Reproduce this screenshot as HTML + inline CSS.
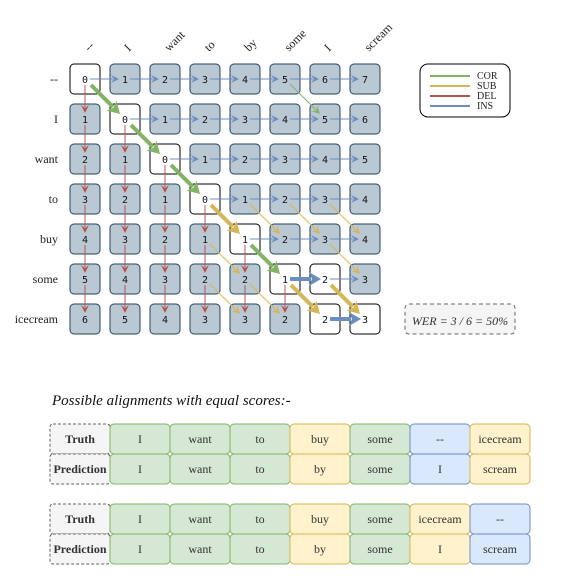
<!DOCTYPE html>
<html><head><meta charset="utf-8"><style>
body{margin:0;background:#fff;}
svg{display:block;}
</style></head><body>
<svg id="s" width="570" height="585" xmlns="http://www.w3.org/2000/svg">
<g id="labels" font-family="Liberation Serif, serif" font-size="12" fill="#222"></g>
<g id="arrowsBelow"></g>
<g id="cells"></g>
<g id="arrows"></g>
<g>
<rect x="420" y="64" width="90" height="53" rx="8" fill="#fff" stroke="#000" stroke-width="1"/>
<line x1="430" y1="76" x2="470" y2="76" stroke="#82b366" stroke-width="2"/>
<line x1="430" y1="86" x2="470" y2="86" stroke="#d6b656" stroke-width="2"/>
<line x1="430" y1="96" x2="470" y2="96" stroke="#b85450" stroke-width="2"/>
<line x1="430" y1="106" x2="470" y2="106" stroke="#6c8ebf" stroke-width="2"/>
<g font-family="Liberation Serif, serif" font-size="10" fill="#222">
<text x="477" y="79">COR</text>
<text x="477" y="89">SUB</text>
<text x="477" y="99">DEL</text>
<text x="477" y="109">INS</text>
</g></g>
<g>
<rect x="405" y="304" width="110" height="30" rx="4" fill="#f5f5f5" stroke="#666" stroke-dasharray="4 3"/>
<text x="460" y="325" text-anchor="middle" font-family="Liberation Serif, serif" font-style="italic" font-size="12" fill="#333">WER = 3 / 6 = 50%</text>
</g>
<text x="52" y="405" font-family="Liberation Serif, serif" font-style="italic" font-size="15" fill="#111">Possible alignments with equal scores:-</text>
<g id="tables" font-family="Liberation Serif, serif" font-size="12" fill="#333"></g>
</svg>
<script>
const colWords=["--","I","want","to","by","some","I","scream"];
const rowWords=["--","I","want","to","buy","some","icecream"];
const matrix=[[0,1,2,3,4,5,6,7],[1,0,1,2,3,4,5,6],[2,1,0,1,2,3,4,5],[3,2,1,0,1,2,3,4],[4,3,2,1,1,2,3,4],[5,4,3,2,2,1,2,3],[6,5,4,3,3,2,2,3]];
const pathCells=[[0,0],[1,1],[2,2],[3,3],[4,4],[5,5],[5,6],[6,6],[6,7]];
const thinDiagCor=[[0,5]];
const thickCor=[[0,0],[1,1],[2,2],[4,4]];
const thickSub=[[3,3],[5,5],[5,6]];
const thinSub=[[3,4],[3,5],[3,6],[4,3],[4,6],[5,3],[5,4]];
const thickIns=[[5,5],[6,6]];
const table1T=["I","want","to","buy","some","--","icecream"];
const table1P=["I","want","to","by","some","I","scream"];
const table1K=["c","c","c","s","c","i","s"];
const table2T=["I","want","to","buy","some","icecream","--"];
const table2P=["I","want","to","by","some","I","scream"];
const table2K=["c","c","c","s","c","s","i"];

const NS="http://www.w3.org/2000/svg";
function mk(t,a,p){const e=document.createElementNS(NS,t);for(const k in a)e.setAttribute(k,a[k]);p.appendChild(e);return e;}
const cx=j=>85+40*j, cy=i=>79+40*i;
const C={g:"#82b366",y:"#d6b656",r:"#b85450",b:"#6c8ebf"};
const labels=document.getElementById('labels');
colWords.forEach((w,j)=>{const t=mk('text',{x:cx(j)+4,y:52,transform:`rotate(-45 ${cx(j)+4} 52)`},labels);t.textContent=w;

});
rowWords.forEach((w,i)=>{const t=mk('text',{x:58,y:cy(i)+4,'text-anchor':'end'},labels);t.textContent=w;

});
const cells=document.getElementById('cells');
const isPath=(i,j)=>pathCells.some(p=>p[0]==i&&p[1]==j);
matrix.forEach((row,i)=>row.forEach((v,j)=>{
 const w=isPath(i,j);
 const r=mk('rect',{x:cx(j)-15,y:cy(i)-15,width:30,height:30,rx:4,fill:w?'#fff':'#bac8d3',stroke:w?'#000':'#23445d','stroke-width':1},cells);
 
 
 const t=mk('text',{x:cx(j),y:cy(i)+4,'text-anchor':'middle','font-family':'DejaVu Sans Mono, monospace','font-size':10,fill:'#111'},cells);t.textContent=v;
 
 
}));
const ar=document.getElementById('arrows');
function arrow(x1,y1,x2,y2,col,thick,name){
 const g=mk('g',{},ar);
 
 
 const dx=x2-x1,dy=y2-y1,L=Math.hypot(dx,dy),ux=dx/L,uy=dy/L;
 const hl=thick?12:8,hw=thick?7:4;
 const bx=x2-ux*hl,by=y2-uy*hl;
 mk('line',{x1,y1,x2:bx+ux*2,y2:by+uy*2,stroke:col,'stroke-width':thick?4:1},g);
 mk('polygon',{points:`${x2},${y2} ${bx-uy*hw},${by+ux*hw} ${bx+ux*3},${by+uy*3} ${bx+uy*hw},${by-ux*hw}`,fill:col},g);
}
// insertions (horizontal) and deletions (vertical), thin
matrix.forEach((row,i)=>row.forEach((v,j)=>{
 if(j<7&&matrix[i][j+1]==v+1&&!thickIns.some(p=>p[0]==i&&p[1]==j)) arrow(cx(j)+5,cy(i),cx(j+1)-6,cy(i),C.b,false,'ins-arrow');
 if(i<6&&matrix[i+1][j]==v+1) arrow(cx(j),cy(i)+6,cx(j),cy(i+1)-6,C.r,false,'del-arrow');
}));
thickIns.forEach(([i,j])=>arrow(cx(j)+5,cy(i),cx(j+1)-4,cy(i),C.b,true,'path-ins-arrow'));
thinDiagCor.forEach(([i,j])=>arrow(cx(j)+5,cy(i)+5,cx(j+1)-5,cy(i+1)-5,C.g,false,'cor-arrow'));
thinSub.forEach(([i,j])=>arrow(cx(j)+5,cy(i)+5,cx(j+1)-5,cy(i+1)-5,C.y,false,'sub-arrow'));
thickCor.forEach(([i,j])=>arrow(cx(j)+6,cy(i)+6,cx(j+1)-5,cy(i+1)-5,C.g,true,'path-cor-arrow'));
thickSub.forEach(([i,j])=>arrow(cx(j)+6,cy(i)+6,cx(j+1)-5,cy(i+1)-5,C.y,true,'path-sub-arrow'));
// tables
const tb=document.getElementById('tables');
const FILL={c:['#d5e8d4','#82b366'],s:['#fff2cc','#d6b656'],i:['#dae8fc','#6c8ebf']};
function table(y0,T,P,K){
 [["Truth",T],["Prediction",P]].forEach(([lab,arr],r)=>{
  const y=y0+30*r;
  const lr=mk('rect',{x:50,y,width:60,height:30,rx:3,fill:'#f5f5f5',stroke:'#666','stroke-dasharray':'3 2'},tb);
  
  
  const lt=mk('text',{x:80,y:y+19,'text-anchor':'middle','font-weight':'bold'},tb);lt.textContent=lab;
  
  
  arr.forEach((w,k)=>{
   const f=FILL[K[k]];
   const c=mk('rect',{x:110+60*k,y,width:60,height:30,rx:4,fill:f[0],stroke:f[1]},tb);
   
   
   const t=mk('text',{x:140+60*k,y:y+19,'text-anchor':'middle'},tb);t.textContent=w;
   
   
  });
 });
}
table(424,table1T,table1P,table1K);
table(504,table2T,table2P,table2K);
</script>
</body></html>
